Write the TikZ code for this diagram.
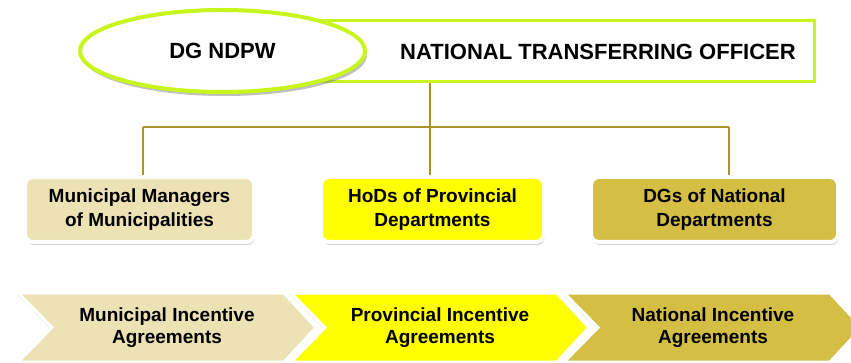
\documentclass[tikz,border=0pt]{standalone}
\usepackage{fontspec}
\setmainfont{Liberation Sans}
\usetikzlibrary{shapes.geometric,shadows}

\definecolor{limeline}{RGB}{200,245,30}
\definecolor{goldline}{RGB}{172,146,40}
\definecolor{muncol}{RGB}{236,226,180}
\definecolor{provcol}{RGB}{255,255,0}
\definecolor{natcol}{RGB}{212,190,68}

\tikzset{
  headtext/.style={font=\fontsize{22}{26}\selectfont\bfseries},
  unitbox/.style={draw=white, line width=4pt, rounded corners=8pt, minimum height=65pt,
    align=center, font=\fontsize{19}{24}\selectfont\bfseries,
    drop shadow={opacity=0.35, shadow xshift=1pt, shadow yshift=-3pt}},
  chevron/.style={draw=white, line width=3pt, line join=miter,
    drop shadow={opacity=0.3, shadow xshift=-1pt, shadow yshift=-1.5pt}},
  agtext/.style={align=center, font=\fontsize{19}{22}\selectfont\bfseries},
  link/.style={goldline, line width=1.3pt}
}

\begin{document}
\begin{tikzpicture}[x=1pt,y=-1pt]

\useasboundingbox (0,0) rectangle (851,363);

\node (nto) at (537,51.5)[draw=limeline, line width=3pt, minimum width=554pt, minimum height=61pt, inner sep=0pt]{};
\node (dg) at (222.5,51)[ellipse, draw=limeline, line width=4pt, fill=white, minimum width=285pt, minimum height=82pt,
  drop shadow={opacity=0.5, shadow xshift=2pt, shadow yshift=-4pt}, headtext]{DG NDPW};
\node (ntotext) at (598,52)[headtext]{NATIONAL TRANSFERRING OFFICER};

\node (mm) at (139.5,209.5)[unitbox, fill=muncol, minimum width=229pt]{Municipal Managers\\of Municipalities};
\node (hod) at (432.5,209.5)[unitbox, fill=provcol, minimum width=223pt]{HoDs of Provincial\\Departments};
\node (dgs) at (714.5,209.5)[unitbox, fill=natcol, minimum width=247pt]{DGs of National\\Departments};

\coordinate (hub) at (430,127);
\coordinate (jl) at (143,127);
\coordinate (jr) at (729,127);

% tree lines
\draw[link] (nto.south -| hub) -- (hub);
\draw[link] (jl) -- (jr);
\draw[link] (jl) -- (jl |- mm.north);
\draw[link] (hub) -- (hub |- hod.north);
\draw[link] (jr) -- (jr |- dgs.north);

% agreements
\foreach \i/\c/\t in {0/muncol/Municipal, 1/provcol/Provincial, 2/natcol/National}
{
\draw[chevron, fill=\c] (18+273*\i,293) -- ++(266,0) -- ++(32,34.5) -- ++(-32,34.5) -- ++(-266,0) -- ++(34,-34.5) -- cycle;
\node[agtext] (agr\i) at (167+273*\i,327.5) {\t{} Incentive\\Agreements};
}

\end{tikzpicture}
\end{document}
